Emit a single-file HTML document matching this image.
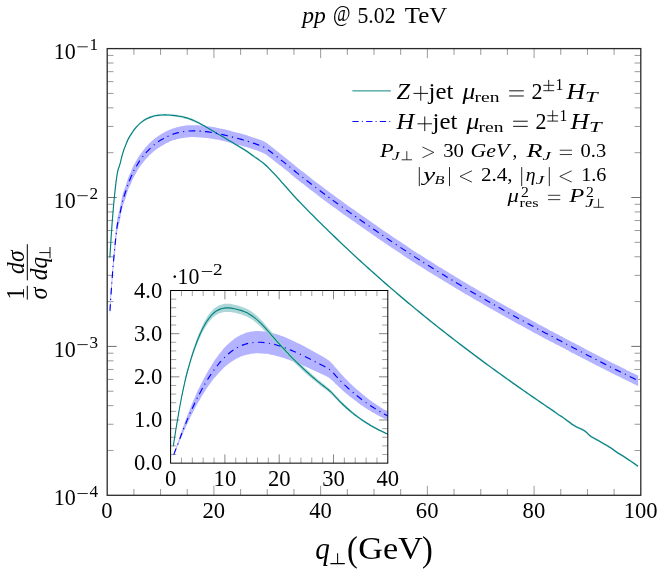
<!DOCTYPE html>
<html><head><meta charset="utf-8"><title>pp @ 5.02 TeV</title>
<style>
html,body{margin:0;padding:0;background:#fff;}
body{width:665px;height:576px;overflow:hidden;font-family:"Liberation Serif",serif;}
svg text{font-family:"Liberation Serif",serif;}
</style></head><body>
<svg width="665" height="576" viewBox="0 0 665 576" style="display:block;will-change:transform">
<rect width="665" height="576" fill="#fff"/>
<defs><clipPath id="cm"><rect x="107.20" y="48.60" width="533.60" height="446.70"/></clipPath>
<clipPath id="ci"><rect x="170.60" y="290.50" width="217.20" height="172.65"/></clipPath></defs>
<path d="M133.88 495.30v-6.30 M133.88 48.60v6.30 M160.56 495.30v-6.30 M160.56 48.60v6.30 M187.24 495.30v-6.30 M187.24 48.60v6.30 M213.92 495.30v-9.50 M213.92 48.60v9.50 M240.60 495.30v-6.30 M240.60 48.60v6.30 M267.28 495.30v-6.30 M267.28 48.60v6.30 M293.96 495.30v-6.30 M293.96 48.60v6.30 M320.64 495.30v-9.50 M320.64 48.60v9.50 M347.32 495.30v-6.30 M347.32 48.60v6.30 M374.00 495.30v-6.30 M374.00 48.60v6.30 M400.68 495.30v-6.30 M400.68 48.60v6.30 M427.36 495.30v-9.50 M427.36 48.60v9.50 M454.04 495.30v-6.30 M454.04 48.60v6.30 M480.72 495.30v-6.30 M480.72 48.60v6.30 M507.40 495.30v-6.30 M507.40 48.60v6.30 M534.08 495.30v-9.50 M534.08 48.60v9.50 M560.76 495.30v-6.30 M560.76 48.60v6.30 M587.44 495.30v-6.30 M587.44 48.60v6.30 M614.12 495.30v-6.30 M614.12 48.60v6.30" stroke="#808080" stroke-width="0.8" fill="none"/>
<path d="M107.20 152.68h6.30 M640.80 152.68h-6.30 M107.20 126.46h6.30 M640.80 126.46h-6.30 M107.20 107.85h6.30 M640.80 107.85h-6.30 M107.20 93.42h6.30 M640.80 93.42h-6.30 M107.20 81.63h6.30 M640.80 81.63h-6.30 M107.20 71.66h6.30 M640.80 71.66h-6.30 M107.20 63.03h6.30 M640.80 63.03h-6.30 M107.20 55.41h6.30 M640.80 55.41h-6.30 M107.20 301.58h6.30 M640.80 301.58h-6.30 M107.20 275.36h6.30 M640.80 275.36h-6.30 M107.20 256.75h6.30 M640.80 256.75h-6.30 M107.20 242.32h6.30 M640.80 242.32h-6.30 M107.20 230.53h6.30 M640.80 230.53h-6.30 M107.20 220.56h6.30 M640.80 220.56h-6.30 M107.20 211.93h6.30 M640.80 211.93h-6.30 M107.20 204.31h6.30 M640.80 204.31h-6.30 M107.20 450.48h6.30 M640.80 450.48h-6.30 M107.20 424.26h6.30 M640.80 424.26h-6.30 M107.20 405.65h6.30 M640.80 405.65h-6.30 M107.20 391.22h6.30 M640.80 391.22h-6.30 M107.20 379.43h6.30 M640.80 379.43h-6.30 M107.20 369.46h6.30 M640.80 369.46h-6.30 M107.20 360.83h6.30 M640.80 360.83h-6.30 M107.20 353.21h6.30 M640.80 353.21h-6.30" stroke="#808080" stroke-width="0.8" fill="none"/>
<path d="M107.20 197.50h9.50 M640.80 197.50h-9.50 M107.20 346.40h9.50 M640.80 346.40h-9.50" stroke="#606060" stroke-width="0.9" fill="none"/>
<g clip-path="url(#cm)">
<path d="M109.87 256.58 C109.87 256.58 112.24 214.62 115.20 187.99 C118.17 161.37 117.58 172.97 120.54 160.62 C123.50 148.27 122.91 151.16 125.88 143.49 C128.84 135.82 128.25 137.89 131.21 132.98 C134.17 128.07 133.59 129.19 136.55 125.80 C139.51 122.41 138.92 123.09 141.88 120.77 C144.85 118.44 144.26 118.92 147.22 117.41 C150.18 115.90 149.59 116.21 152.56 115.32 C155.52 114.42 154.93 114.62 157.89 114.19 C160.85 113.77 160.27 113.88 163.23 113.79 C166.19 113.70 165.60 113.72 168.56 113.87 C171.53 114.01 170.94 113.98 173.90 114.33 C176.86 114.67 176.27 114.57 179.24 115.09 C182.20 115.62 181.61 115.46 184.57 116.23 C187.53 116.99 186.95 116.79 189.91 117.86 C192.87 118.92 192.28 118.70 195.24 120.06 C198.21 121.41 197.62 121.16 200.58 122.75 C203.54 124.33 202.95 124.04 205.92 125.77 C208.88 127.49 208.29 127.23 211.25 128.97 C214.21 130.70 213.63 130.33 216.59 132.03 C219.55 133.73 218.96 133.37 221.92 135.09 C224.89 136.81 224.30 136.49 227.26 138.24 C230.22 140.00 229.63 139.65 232.60 141.43 C235.56 143.20 234.97 142.85 237.93 144.63 C240.89 146.42 240.31 145.99 243.27 147.86 C246.23 149.73 245.64 149.33 248.60 151.37 C251.57 153.41 250.98 153.09 253.94 155.21 C256.90 157.33 256.31 156.83 259.28 159.01 C262.24 161.18 261.65 160.51 264.61 163.04 C267.57 165.58 266.99 165.16 269.95 168.14 C272.91 171.12 272.32 170.59 275.28 173.78 C278.25 176.97 277.66 176.30 280.62 179.64 C283.58 182.99 282.99 182.46 285.96 185.84 C288.92 189.22 288.33 188.55 291.29 191.83 C294.25 195.12 293.67 194.51 296.63 197.67 C299.59 200.83 299.00 200.16 301.96 203.21 C304.93 206.26 304.34 205.66 307.30 208.67 C310.26 211.68 309.67 211.08 312.64 214.06 C315.60 217.04 315.01 216.45 317.97 219.40 C320.93 222.34 320.35 221.76 323.31 224.68 C326.27 227.59 325.68 227.02 328.64 229.90 C331.61 232.78 331.02 232.21 333.98 235.07 C336.94 237.92 336.35 237.36 339.32 240.18 C342.28 243.00 341.69 242.45 344.65 245.24 C347.61 248.03 347.03 247.48 349.99 250.24 C352.95 253.01 352.36 252.46 355.32 255.20 C358.29 257.93 357.70 257.39 360.66 260.10 C363.62 262.81 363.03 262.27 366.00 264.95 C368.96 267.63 368.37 267.10 371.33 269.75 C374.29 272.40 373.71 271.88 376.67 274.50 C379.63 277.13 379.04 276.61 382.00 279.21 C384.97 281.81 384.38 281.29 387.34 283.87 C390.30 286.44 389.71 285.93 392.68 288.48 C395.64 291.02 395.05 290.52 398.01 293.04 C400.97 295.56 400.39 295.07 403.35 297.56 C406.31 300.06 405.72 299.57 408.68 302.04 C411.65 304.51 411.06 304.03 414.02 306.47 C416.98 308.92 416.39 308.44 419.36 310.87 C422.32 313.29 421.73 312.81 424.69 315.22 C427.65 317.62 427.07 317.14 430.03 319.53 C432.99 321.91 432.40 321.44 435.36 323.79 C438.33 326.15 437.74 325.69 440.70 328.03 C443.66 330.36 443.07 329.90 446.04 332.22 C449.00 334.53 448.41 334.08 451.37 336.37 C454.33 338.67 453.75 338.22 456.71 340.49 C459.67 342.77 459.08 342.32 462.04 344.58 C465.01 346.83 464.42 346.39 467.38 348.63 C470.34 350.86 469.75 350.42 472.72 352.64 C475.68 354.86 475.09 354.42 478.05 356.62 C481.01 358.82 480.43 358.39 483.39 360.57 C486.35 362.75 485.76 362.32 488.72 364.49 C491.69 366.66 491.10 366.23 494.06 368.38 C497.02 370.53 496.43 370.10 499.40 372.24 C502.36 374.37 501.77 373.95 504.73 376.06 C507.69 378.18 507.11 377.76 510.07 379.87 C513.03 381.97 512.44 381.55 515.40 383.64 C518.37 385.73 517.78 385.31 520.74 387.39 C523.70 389.46 523.11 389.05 526.08 391.11 C529.04 393.17 528.45 392.76 531.41 394.80 C534.37 396.85 533.79 396.45 536.75 398.48 C539.71 400.51 539.12 400.11 542.08 402.13 C545.05 404.15 544.46 403.75 547.42 405.76 C550.38 407.76 549.79 407.29 552.76 409.36 C555.72 411.44 555.13 411.19 558.09 413.23 C561.05 415.26 560.47 414.66 563.43 416.71 C566.39 418.76 565.80 418.47 568.76 420.62 C571.73 422.77 571.14 422.65 574.10 424.45 C577.06 426.24 576.47 425.60 579.44 427.09 C582.40 428.58 581.81 427.71 584.77 429.81 C587.73 431.90 587.15 432.41 590.11 434.63 C593.07 436.84 592.48 436.04 595.44 437.79 C598.41 439.53 597.82 439.21 600.78 440.91 C603.74 442.62 603.15 442.19 606.12 443.93 C609.08 445.67 608.49 445.20 611.45 447.19 C614.41 449.17 613.83 449.12 616.79 451.10 C619.75 453.07 619.16 452.45 622.12 454.30 C625.09 456.15 624.50 455.78 627.46 457.75 C630.42 459.73 629.83 459.36 632.80 461.41 C635.76 463.47 638.13 465.15 638.13 465.15 L638.13 467.47 C638.13 467.47 635.76 465.79 632.80 463.74 C629.83 461.69 630.42 462.06 627.46 460.08 C624.50 458.11 625.09 458.48 622.12 456.63 C619.16 454.78 619.75 455.40 616.79 453.43 C613.83 451.45 614.41 451.50 611.45 449.51 C608.49 447.53 609.08 448.00 606.12 446.26 C603.15 444.52 603.74 444.95 600.78 443.24 C597.82 441.54 598.41 441.86 595.44 440.11 C592.48 438.37 593.07 439.17 590.11 436.96 C587.15 434.74 587.73 434.23 584.77 432.13 C581.81 430.04 582.40 430.90 579.44 429.42 C576.47 427.93 577.06 428.57 574.10 426.77 C571.14 424.98 571.73 425.10 568.76 422.95 C565.80 420.80 566.39 421.09 563.43 419.04 C560.47 416.99 561.05 417.59 558.09 415.55 C555.13 413.52 555.72 413.76 552.76 411.69 C549.79 409.62 550.38 410.09 547.42 408.08 C544.46 406.08 545.05 406.48 542.08 404.46 C539.12 402.44 539.71 402.84 536.75 400.81 C533.79 398.77 534.37 399.18 531.41 397.13 C528.45 395.09 529.04 395.49 526.08 393.44 C523.11 391.38 523.70 391.79 520.74 389.71 C517.78 387.64 518.37 388.05 515.40 385.97 C512.44 383.88 513.03 384.30 510.07 382.19 C507.11 380.09 507.69 380.51 504.73 378.39 C501.77 376.28 502.36 376.70 499.40 374.56 C496.43 372.43 497.02 372.85 494.06 370.71 C491.10 368.56 491.69 368.98 488.72 366.82 C485.76 364.65 486.35 365.08 483.39 362.90 C480.43 360.72 481.01 361.15 478.05 358.95 C475.09 356.75 475.68 357.19 472.72 354.97 C469.75 352.75 470.34 353.19 467.38 350.95 C464.42 348.72 465.01 349.16 462.04 346.90 C459.08 344.65 459.67 345.10 456.71 342.82 C453.75 340.54 454.33 341.00 451.37 338.70 C448.41 336.41 449.00 336.86 446.04 334.55 C443.07 332.23 443.66 332.69 440.70 330.35 C437.74 328.02 438.33 328.48 435.36 326.12 C432.40 323.76 432.99 324.23 430.03 321.85 C427.07 319.47 427.65 319.95 424.69 317.54 C421.73 315.14 422.32 315.62 419.36 313.19 C416.39 310.77 416.98 311.25 414.02 308.80 C411.06 306.35 411.65 306.84 408.68 304.37 C405.72 301.90 406.31 302.39 403.35 299.89 C400.39 297.40 400.97 297.89 398.01 295.37 C395.05 292.85 395.64 293.35 392.68 290.81 C389.71 288.26 390.30 288.77 387.34 286.20 C384.38 283.62 384.97 284.14 382.00 281.54 C379.04 278.94 379.63 279.46 376.67 276.83 C373.71 274.21 374.29 274.73 371.33 272.08 C368.37 269.43 368.96 269.96 366.00 267.28 C363.03 264.60 363.62 265.13 360.66 262.43 C357.70 259.72 358.29 260.26 355.32 257.53 C352.36 254.79 352.95 255.34 349.99 252.57 C347.03 249.81 347.61 250.36 344.65 247.57 C341.69 244.77 342.28 245.33 339.32 242.51 C336.35 239.69 336.94 240.25 333.98 237.40 C331.02 234.54 331.61 235.11 328.64 232.23 C325.68 229.34 326.27 229.92 323.31 227.00 C320.35 224.09 320.93 224.67 317.97 221.73 C315.01 218.78 315.60 219.37 312.64 216.39 C309.67 213.41 310.26 214.00 307.30 210.99 C304.34 207.98 304.93 208.59 301.96 205.54 C299.00 202.49 299.59 203.16 296.63 200.00 C293.67 196.84 294.25 197.44 291.29 194.16 C288.33 190.88 288.92 191.55 285.96 188.17 C282.99 184.78 283.58 185.31 280.62 181.97 C277.66 178.62 278.25 179.30 275.28 176.11 C272.32 172.92 272.91 173.45 269.95 170.47 C266.99 167.49 267.57 167.91 264.61 165.37 C261.65 162.84 262.24 163.51 259.28 161.33 C256.31 159.16 256.90 159.65 253.94 157.54 C250.98 155.42 251.57 155.74 248.60 153.70 C245.64 151.66 246.23 152.06 243.27 150.18 C240.31 148.31 240.89 148.74 237.93 146.96 C234.97 145.17 235.56 145.53 232.60 143.75 C229.63 141.98 230.22 142.33 227.26 140.57 C224.30 138.81 224.89 139.14 221.92 137.42 C218.96 135.69 219.55 136.06 216.59 134.36 C213.63 132.66 214.21 133.03 211.25 131.30 C208.29 129.56 208.88 129.82 205.92 128.10 C202.95 126.37 203.54 126.66 200.58 125.08 C197.62 123.49 198.21 123.74 195.24 122.38 C192.28 121.03 192.87 121.25 189.91 120.18 C186.95 119.12 187.53 119.32 184.57 118.55 C181.61 117.79 182.20 117.95 179.24 117.42 C176.27 116.90 176.86 116.99 173.90 116.65 C170.94 116.31 171.53 116.34 168.56 116.19 C165.60 116.05 166.19 116.03 163.23 116.12 C160.27 116.21 160.85 116.10 157.89 116.52 C154.93 116.94 155.52 116.75 152.56 117.64 C149.59 118.54 150.18 118.23 147.22 119.74 C144.26 121.25 144.85 120.77 141.88 123.09 C138.92 125.42 139.51 124.74 136.55 128.13 C133.59 131.52 134.17 130.40 131.21 135.31 C128.25 140.22 128.84 138.15 125.88 145.82 C122.91 153.49 123.50 150.60 120.54 162.95 C117.58 175.30 118.17 163.69 115.20 190.32 C112.24 216.95 109.87 258.91 109.87 258.91 Z" fill="#9fcfcf" fill-opacity="0.6"/>
<path d="M109.87 306.39 C109.87 306.39 112.24 265.91 115.20 237.80 C118.17 209.70 117.58 219.74 120.54 205.12 C123.50 190.49 122.91 194.59 125.88 185.09 C128.84 175.60 128.25 177.78 131.21 170.90 C134.17 164.02 133.59 165.50 136.55 160.30 C139.51 155.11 138.92 156.21 141.88 152.16 C144.85 148.11 144.26 148.95 147.22 145.71 C150.18 142.48 149.59 143.12 152.56 140.51 C155.52 137.89 154.93 138.39 157.89 136.30 C160.85 134.21 160.27 134.65 163.23 132.98 C166.19 131.30 165.60 131.58 168.56 130.25 C171.53 128.92 170.94 129.17 173.90 128.19 C176.86 127.20 176.27 127.39 179.24 126.71 C182.20 126.04 181.61 126.15 184.57 125.75 C187.53 125.35 186.95 125.42 189.91 125.27 C192.87 125.13 192.28 125.17 195.24 125.22 C198.21 125.28 197.62 125.26 200.58 125.47 C203.54 125.68 202.95 125.64 205.92 125.98 C208.88 126.33 208.29 126.25 211.25 126.72 C214.21 127.18 213.63 127.09 216.59 127.66 C219.55 128.22 218.96 128.11 221.92 128.77 C224.89 129.43 224.30 129.29 227.26 130.03 C230.22 130.77 229.63 130.65 232.60 131.43 C235.56 132.22 234.97 132.06 237.93 132.85 C240.89 133.65 240.31 133.44 243.27 134.28 C246.23 135.13 245.64 134.95 248.60 135.89 C251.57 136.83 250.98 136.66 253.94 137.67 C256.90 138.68 256.31 138.36 259.28 139.52 C262.24 140.68 261.65 140.16 264.61 141.85 C267.57 143.53 266.99 143.40 269.95 145.60 C272.91 147.80 272.32 147.45 275.28 149.76 C278.25 152.08 277.66 151.60 280.62 153.93 C283.58 156.26 282.99 155.78 285.96 158.17 C288.92 160.55 288.33 160.07 291.29 162.52 C294.25 164.96 293.67 164.60 296.63 166.98 C299.59 169.36 299.00 168.81 301.96 171.11 C304.93 173.40 304.34 172.94 307.30 175.25 C310.26 177.55 309.67 177.11 312.64 179.40 C315.60 181.68 315.01 181.23 317.97 183.48 C320.93 185.73 320.35 185.28 323.31 187.50 C326.27 189.72 325.68 189.29 328.64 191.49 C331.61 193.69 331.02 193.26 333.98 195.43 C336.94 197.60 336.35 197.17 339.32 199.32 C342.28 201.47 341.69 201.04 344.65 203.17 C347.61 205.30 347.03 204.88 349.99 206.99 C352.95 209.11 352.36 208.69 355.32 210.79 C358.29 212.90 357.70 212.48 360.66 214.57 C363.62 216.66 363.03 216.25 366.00 218.32 C368.96 220.39 368.37 219.98 371.33 222.04 C374.29 224.10 373.71 223.70 376.67 225.75 C379.63 227.81 379.04 227.40 382.00 229.44 C384.97 231.47 384.38 231.07 387.34 233.09 C390.30 235.11 389.71 234.71 392.68 236.71 C395.64 238.71 395.05 238.32 398.01 240.30 C400.97 242.29 400.39 241.90 403.35 243.87 C406.31 245.84 405.72 245.45 408.68 247.40 C411.65 249.36 411.06 248.98 414.02 250.91 C416.98 252.84 416.39 252.46 419.36 254.36 C422.32 256.26 421.73 255.87 424.69 257.75 C427.65 259.62 427.07 259.25 430.03 261.11 C432.99 262.97 432.40 262.60 435.36 264.44 C438.33 266.29 437.74 265.92 440.70 267.75 C443.66 269.58 443.07 269.22 446.04 271.03 C449.00 272.85 448.41 272.49 451.37 274.29 C454.33 276.09 453.75 275.73 456.71 277.52 C459.67 279.30 459.08 278.95 462.04 280.72 C465.01 282.49 464.42 282.14 467.38 283.90 C470.34 285.66 469.75 285.31 472.72 287.06 C475.68 288.80 475.09 288.46 478.05 290.19 C481.01 291.92 480.43 291.58 483.39 293.30 C486.35 295.01 485.76 294.67 488.72 296.38 C491.69 298.08 491.10 297.75 494.06 299.44 C497.02 301.13 496.43 300.80 499.40 302.48 C502.36 304.16 501.77 303.83 504.73 305.50 C507.69 307.17 507.11 306.84 510.07 308.49 C513.03 310.15 512.44 309.82 515.40 311.47 C518.37 313.11 517.78 312.79 520.74 314.42 C523.70 316.05 523.11 315.73 526.08 317.35 C529.04 318.97 528.45 318.65 531.41 320.27 C534.37 321.88 533.79 321.56 536.75 323.16 C539.71 324.76 539.12 324.44 542.08 326.03 C545.05 327.62 544.46 327.31 547.42 328.89 C550.38 330.47 549.79 330.16 552.76 331.73 C555.72 333.30 555.13 332.98 558.09 334.54 C561.05 336.11 560.47 335.80 563.43 337.38 C566.39 338.95 565.80 338.65 568.76 340.22 C571.73 341.80 571.14 341.48 574.10 343.05 C577.06 344.61 576.47 344.30 579.44 345.86 C582.40 347.42 581.81 347.11 584.77 348.66 C587.73 350.20 587.15 349.90 590.11 351.44 C593.07 352.97 592.48 352.67 595.44 354.20 C598.41 355.73 597.82 355.43 600.78 356.95 C603.74 358.47 603.15 358.17 606.12 359.69 C609.08 361.20 608.49 360.91 611.45 362.41 C614.41 363.91 613.83 363.61 616.79 365.10 C619.75 366.58 619.16 366.28 622.12 367.75 C625.09 369.22 624.50 368.93 627.46 370.39 C630.42 371.86 629.83 371.57 632.80 373.02 C635.76 374.48 638.13 375.64 638.13 375.64 L638.13 386.02 C638.13 386.02 635.76 384.87 632.80 383.43 C629.83 381.99 630.42 382.28 627.46 380.83 C624.50 379.38 625.09 379.67 622.12 378.21 C619.16 376.76 619.75 377.05 616.79 375.58 C613.83 374.11 614.41 374.41 611.45 372.92 C608.49 371.43 609.08 371.72 606.12 370.22 C603.15 368.72 603.74 369.02 600.78 367.51 C597.82 366.01 598.41 366.31 595.44 364.79 C592.48 363.27 593.07 363.58 590.11 362.05 C587.15 360.53 587.73 360.83 584.77 359.30 C581.81 357.77 582.40 358.07 579.44 356.53 C576.47 354.99 577.06 355.29 574.10 353.74 C571.14 352.19 571.73 352.50 568.76 350.94 C565.80 349.38 566.39 349.68 563.43 348.12 C560.47 346.56 561.05 346.87 558.09 345.32 C555.13 343.76 555.72 344.08 552.76 342.52 C549.79 340.97 550.38 341.28 547.42 339.71 C544.46 338.15 545.05 338.46 542.08 336.88 C539.12 335.31 539.71 335.62 536.75 334.04 C533.79 332.45 534.37 332.77 531.41 331.17 C528.45 329.57 529.04 329.89 526.08 328.28 C523.11 326.67 523.70 326.99 520.74 325.37 C517.78 323.76 518.37 324.08 515.40 322.45 C512.44 320.82 513.03 321.14 510.07 319.50 C507.11 317.86 507.69 318.18 504.73 316.53 C501.77 314.88 502.36 315.20 499.40 313.54 C496.43 311.87 497.02 312.20 494.06 310.53 C491.10 308.85 491.69 309.18 488.72 307.49 C485.76 305.80 486.35 306.14 483.39 304.43 C480.43 302.73 481.01 303.07 478.05 301.35 C475.09 299.63 475.68 299.98 472.72 298.25 C469.75 296.52 470.34 296.86 467.38 295.12 C464.42 293.37 465.01 293.72 462.04 291.96 C459.08 290.21 459.67 290.56 456.71 288.79 C453.75 287.01 454.33 287.37 451.37 285.58 C448.41 283.80 449.00 284.15 446.04 282.35 C443.07 280.55 443.66 280.91 440.70 279.10 C437.74 277.28 438.33 277.64 435.36 275.82 C432.40 273.99 432.99 274.35 430.03 272.51 C427.07 270.66 427.65 271.03 424.69 269.17 C421.73 267.31 422.32 267.69 419.36 265.81 C416.39 263.93 416.98 264.30 414.02 262.39 C411.06 260.47 411.65 260.85 408.68 258.91 C405.72 256.97 406.31 257.35 403.35 255.40 C400.39 253.44 400.97 253.83 398.01 251.86 C395.05 249.89 395.64 250.28 392.68 248.29 C389.71 246.30 390.30 246.70 387.34 244.69 C384.38 242.69 384.97 243.09 382.00 241.07 C379.04 239.05 379.63 239.45 376.67 237.41 C373.71 235.37 374.29 235.77 371.33 233.72 C368.37 231.68 368.96 232.09 366.00 230.03 C363.03 227.98 363.62 228.39 360.66 226.31 C357.70 224.23 358.29 224.64 355.32 222.55 C352.36 220.46 352.95 220.88 349.99 218.78 C347.03 216.68 347.61 217.10 344.65 214.99 C341.69 212.87 342.28 213.29 339.32 211.16 C336.35 209.03 336.94 209.45 333.98 207.30 C331.02 205.14 331.61 205.57 328.64 203.38 C325.68 201.20 326.27 201.63 323.31 199.42 C320.35 197.21 320.93 197.66 317.97 195.41 C315.01 193.17 315.60 193.62 312.64 191.33 C309.67 189.05 310.26 189.48 307.30 187.18 C304.34 184.88 304.93 185.33 301.96 183.04 C299.00 180.75 299.59 181.30 296.63 178.91 C293.67 176.53 294.25 176.90 291.29 174.45 C288.33 172.00 288.92 172.48 285.96 170.10 C282.99 167.71 283.58 168.19 280.62 165.86 C277.66 163.53 278.25 164.01 275.28 161.70 C272.32 159.39 272.91 159.73 269.95 157.53 C266.99 155.34 267.57 155.47 264.61 153.78 C261.65 152.09 262.24 152.62 259.28 151.46 C256.31 150.30 256.90 150.61 253.94 149.60 C250.98 148.59 251.57 148.76 248.60 147.82 C245.64 146.89 246.23 147.06 243.27 146.22 C240.31 145.37 240.89 145.58 237.93 144.79 C234.97 144.00 235.56 144.15 232.60 143.37 C229.63 142.58 230.22 142.70 227.26 141.96 C224.30 141.22 224.89 141.36 221.92 140.70 C218.96 140.04 219.55 140.16 216.59 139.59 C213.63 139.02 214.21 139.12 211.25 138.65 C208.29 138.19 208.88 138.26 205.92 137.91 C202.95 137.57 203.54 137.61 200.58 137.40 C197.62 137.19 198.21 137.21 195.24 137.15 C192.28 137.10 192.87 137.06 189.91 137.21 C186.95 137.35 187.53 137.28 184.57 137.68 C181.61 138.08 182.20 137.97 179.24 138.65 C176.27 139.32 176.86 139.14 173.90 140.12 C170.94 141.10 171.53 140.85 168.56 142.18 C165.60 143.51 166.19 143.23 163.23 144.91 C160.27 146.59 160.85 146.14 157.89 148.23 C154.93 150.32 155.52 149.83 152.56 152.44 C149.59 155.05 150.18 154.41 147.22 157.64 C144.26 160.88 144.85 160.04 141.88 164.09 C138.92 168.14 139.51 167.04 136.55 172.24 C133.59 177.44 134.17 175.95 131.21 182.83 C128.25 189.71 128.84 187.53 125.88 197.03 C122.91 206.52 123.50 202.42 120.54 217.05 C117.58 231.68 118.17 221.63 115.20 249.73 C112.24 277.84 109.87 318.33 109.87 318.33 Z" fill="#b3b3ff"/>
<path d="M109.87 257.73 C109.87 257.73 112.24 215.78 115.20 189.15 C118.17 162.52 117.58 174.12 120.54 161.77 C123.50 149.43 122.91 152.32 125.88 144.65 C128.84 136.98 128.25 139.05 131.21 134.14 C134.17 129.22 133.59 130.34 136.55 126.95 C139.51 123.56 138.92 124.25 141.88 121.92 C144.85 119.59 144.26 120.08 147.22 118.57 C150.18 117.05 149.59 117.36 152.56 116.47 C155.52 115.58 154.93 115.77 157.89 115.35 C160.85 114.92 160.27 115.04 163.23 114.95 C166.19 114.86 165.60 114.87 168.56 115.02 C171.53 115.17 170.94 115.14 173.90 115.48 C176.86 115.82 176.27 115.72 179.24 116.25 C182.20 116.78 181.61 116.61 184.57 117.38 C187.53 118.15 186.95 117.95 189.91 119.01 C192.87 120.07 192.28 119.85 195.24 121.21 C198.21 122.57 197.62 122.32 200.58 123.90 C203.54 125.49 202.95 125.20 205.92 126.92 C208.88 128.65 208.29 128.38 211.25 130.12 C214.21 131.86 213.63 131.48 216.59 133.18 C219.55 134.88 218.96 134.52 221.92 136.24 C224.89 137.97 224.30 137.64 227.26 139.40 C230.22 141.16 229.63 140.81 232.60 142.58 C235.56 144.35 234.97 144.00 237.93 145.78 C240.89 147.57 240.31 147.14 243.27 149.01 C246.23 150.88 245.64 150.49 248.60 152.53 C251.57 154.57 250.98 154.24 253.94 156.36 C256.90 158.48 256.31 157.99 259.28 160.16 C262.24 162.33 261.65 161.66 264.61 164.20 C267.57 166.73 266.99 166.31 269.95 169.30 C272.91 172.28 272.32 171.75 275.28 174.94 C278.25 178.13 277.66 177.45 280.62 180.79 C283.58 184.14 282.99 183.61 285.96 186.99 C288.92 190.38 288.33 189.70 291.29 192.99 C294.25 196.27 293.67 195.67 296.63 198.83 C299.59 201.98 299.00 201.31 301.96 204.37 C304.93 207.42 304.34 206.81 307.30 209.82 C310.26 212.83 309.67 212.24 312.64 215.21 C315.60 218.19 315.01 217.60 317.97 220.55 C320.93 223.50 320.35 222.92 323.31 225.83 C326.27 228.74 325.68 228.17 328.64 231.05 C331.61 233.94 331.02 233.37 333.98 236.22 C336.94 239.07 336.35 238.51 339.32 241.33 C342.28 244.16 341.69 243.60 344.65 246.39 C347.61 249.18 347.03 248.63 349.99 251.40 C352.95 254.16 352.36 253.62 355.32 256.35 C358.29 259.09 357.70 258.55 360.66 261.25 C363.62 263.96 363.03 263.43 366.00 266.10 C368.96 268.78 368.37 268.25 371.33 270.91 C374.29 273.56 373.71 273.03 376.67 275.66 C379.63 278.28 379.04 277.77 382.00 280.36 C384.97 282.96 384.38 282.45 387.34 285.02 C390.30 287.59 389.71 287.09 392.68 289.63 C395.64 292.18 395.05 291.68 398.01 294.20 C400.97 296.72 400.39 296.22 403.35 298.72 C406.31 301.21 405.72 300.72 408.68 303.19 C411.65 305.67 411.06 305.18 414.02 307.63 C416.98 310.08 416.39 309.59 419.36 312.02 C422.32 314.45 421.73 313.97 424.69 316.37 C427.65 318.77 427.07 318.30 430.03 320.68 C432.99 323.06 432.40 322.59 435.36 324.95 C438.33 327.31 437.74 326.84 440.70 329.18 C443.66 331.52 443.07 331.06 446.04 333.37 C449.00 335.69 448.41 335.23 451.37 337.53 C454.33 339.82 453.75 339.37 456.71 341.65 C459.67 343.92 459.08 343.47 462.04 345.73 C465.01 347.99 464.42 347.54 467.38 349.78 C470.34 352.02 469.75 351.57 472.72 353.79 C475.68 356.01 475.09 355.57 478.05 357.78 C481.01 359.98 480.43 359.54 483.39 361.73 C486.35 363.91 485.76 363.48 488.72 365.64 C491.69 367.81 491.10 367.38 494.06 369.53 C497.02 371.68 496.43 371.26 499.40 373.39 C502.36 375.52 501.77 375.10 504.73 377.22 C507.69 379.34 507.11 378.92 510.07 381.02 C513.03 383.12 512.44 382.71 515.40 384.79 C518.37 386.88 517.78 386.47 520.74 388.54 C523.70 390.61 523.11 390.20 526.08 392.26 C529.04 394.32 528.45 393.91 531.41 395.96 C534.37 398.00 533.79 397.60 536.75 399.63 C539.71 401.66 539.12 401.26 542.08 403.28 C545.05 405.30 544.46 404.90 547.42 406.91 C550.38 408.92 549.79 408.44 552.76 410.52 C555.72 412.59 555.13 412.34 558.09 414.38 C561.05 416.42 560.47 415.81 563.43 417.86 C566.39 419.91 565.80 419.63 568.76 421.77 C571.73 423.92 571.14 423.81 574.10 425.60 C577.06 427.39 576.47 426.76 579.44 428.24 C582.40 429.73 581.81 428.87 584.77 430.96 C587.73 433.05 587.15 433.57 590.11 435.78 C593.07 438.00 592.48 437.20 595.44 438.94 C598.41 440.68 597.82 440.36 600.78 442.07 C603.74 443.77 603.15 443.35 606.12 445.09 C609.08 446.83 608.49 446.35 611.45 448.34 C614.41 450.33 613.83 450.28 616.79 452.25 C619.75 454.23 619.16 453.61 622.12 455.45 C625.09 457.30 624.50 456.93 627.46 458.91 C630.42 460.88 629.83 460.52 632.80 462.57 C635.76 464.62 638.13 466.30 638.13 466.30" fill="none" stroke="#008080" stroke-width="1.15" stroke-linejoin="round"/>
<path d="M109.87 312.09 C109.87 312.09 112.24 271.60 115.20 243.49 C118.17 215.39 117.58 225.43 120.54 210.81 C123.50 196.18 122.91 200.28 125.88 190.79 C128.84 181.29 128.25 183.47 131.21 176.59 C134.17 169.71 133.59 171.19 136.55 166.00 C139.51 160.80 138.92 161.90 141.88 157.85 C144.85 153.80 144.26 154.64 147.22 151.40 C150.18 148.17 149.59 148.81 152.56 146.20 C155.52 143.59 154.93 144.08 157.89 141.99 C160.85 139.90 160.27 140.35 163.23 138.67 C166.19 136.99 165.60 137.27 168.56 135.94 C171.53 134.61 170.94 134.86 173.90 133.88 C176.86 132.90 176.27 133.08 179.24 132.41 C182.20 131.73 181.61 131.84 184.57 131.44 C187.53 131.04 186.95 131.11 189.91 130.97 C192.87 130.82 192.28 130.86 195.24 130.91 C198.21 130.97 197.62 130.95 200.58 131.16 C203.54 131.37 202.95 131.33 205.92 131.67 C208.88 132.02 208.29 131.95 211.25 132.41 C214.21 132.88 213.63 132.78 216.59 133.35 C219.55 133.92 218.96 133.80 221.92 134.46 C224.89 135.12 224.30 134.98 227.26 135.72 C230.22 136.46 229.63 136.34 232.60 137.12 C235.56 137.91 234.97 137.75 237.93 138.55 C240.89 139.34 240.31 139.13 243.27 139.98 C246.23 140.82 245.64 140.64 248.60 141.58 C251.57 142.52 250.98 142.35 253.94 143.36 C256.90 144.37 256.31 144.06 259.28 145.21 C262.24 146.37 261.65 145.85 264.61 147.54 C267.57 149.23 266.99 149.10 269.95 151.29 C272.91 153.49 272.32 153.15 275.28 155.46 C278.25 157.77 277.66 157.29 280.62 159.62 C283.58 161.95 282.99 161.47 285.96 163.86 C288.92 166.24 288.33 165.76 291.29 168.21 C294.25 170.65 293.67 170.29 296.63 172.67 C299.59 175.06 299.00 174.50 301.96 176.80 C304.93 179.09 304.34 178.64 307.30 180.94 C310.26 183.24 309.67 182.80 312.64 185.09 C315.60 187.38 315.01 186.93 317.97 189.17 C320.93 191.42 320.35 190.97 323.31 193.19 C326.27 195.40 325.68 194.97 328.64 197.17 C331.61 199.36 331.02 198.93 333.98 201.09 C336.94 203.26 336.35 202.83 339.32 204.97 C342.28 207.11 341.69 206.69 344.65 208.81 C347.61 210.93 347.03 210.51 349.99 212.62 C352.95 214.72 352.36 214.31 355.32 216.41 C358.29 218.50 357.70 218.09 360.66 220.18 C363.62 222.26 363.03 221.85 366.00 223.91 C368.96 225.98 368.37 225.56 371.33 227.62 C374.29 229.67 373.71 229.27 376.67 231.32 C379.63 233.37 379.04 232.96 382.00 234.99 C384.97 237.02 384.38 236.62 387.34 238.63 C390.30 240.64 389.71 240.25 392.68 242.24 C395.64 244.24 395.05 243.84 398.01 245.82 C400.97 247.80 400.39 247.41 403.35 249.38 C406.31 251.34 405.72 250.95 408.68 252.90 C411.65 254.85 411.06 254.47 414.02 256.39 C416.98 258.32 416.39 257.94 419.36 259.83 C422.32 261.72 421.73 261.34 424.69 263.21 C427.65 265.07 427.07 264.71 430.03 266.56 C432.99 268.41 432.40 268.04 435.36 269.88 C438.33 271.72 437.74 271.35 440.70 273.18 C443.66 275.00 443.07 274.64 446.04 276.45 C449.00 278.25 448.41 277.90 451.37 279.69 C454.33 281.48 453.75 281.13 456.71 282.91 C459.67 284.69 459.08 284.33 462.04 286.10 C465.01 287.86 464.42 287.52 467.38 289.27 C470.34 291.02 469.75 290.67 472.72 292.41 C475.68 294.15 475.09 293.80 478.05 295.53 C481.01 297.25 480.43 296.91 483.39 298.62 C486.35 300.34 485.76 300.00 488.72 301.70 C491.69 303.40 491.10 303.06 494.06 304.75 C497.02 306.43 496.43 306.10 499.40 307.77 C502.36 309.45 501.77 309.12 504.73 310.78 C507.69 312.44 507.11 312.11 510.07 313.76 C513.03 315.41 512.44 315.09 515.40 316.72 C518.37 318.36 517.78 318.04 520.74 319.67 C523.70 321.29 523.11 320.97 526.08 322.59 C529.04 324.20 528.45 323.88 531.41 325.49 C534.37 327.09 533.79 326.77 536.75 328.37 C539.71 329.96 539.12 329.65 542.08 331.23 C545.05 332.81 544.46 332.50 547.42 334.07 C550.38 335.65 549.79 335.34 552.76 336.90 C555.72 338.46 555.13 338.15 558.09 339.71 C561.05 341.27 560.47 340.96 563.43 342.53 C566.39 344.10 565.80 343.79 568.76 345.36 C571.73 346.93 571.14 346.62 574.10 348.18 C577.06 349.73 576.47 349.43 579.44 350.97 C582.40 352.52 581.81 352.22 584.77 353.76 C587.73 355.30 587.15 354.99 590.11 356.53 C593.07 358.06 592.48 357.76 595.44 359.28 C598.41 360.80 597.82 360.50 600.78 362.02 C603.74 363.53 603.15 363.23 606.12 364.74 C609.08 366.25 608.49 365.96 611.45 367.45 C614.41 368.95 613.83 368.65 616.79 370.13 C619.75 371.60 619.16 371.31 622.12 372.77 C625.09 374.23 624.50 373.94 627.46 375.40 C630.42 376.86 629.83 376.57 632.80 378.02 C635.76 379.47 638.13 380.63 638.13 380.63" fill="none" stroke="#0000ff" stroke-width="1.15" stroke-dasharray="6.65 4.35 1.1 4.36" stroke-dashoffset="-1.3" stroke-linejoin="round"/>
</g>
<rect x="107.20" y="48.60" width="533.60" height="446.70" fill="none" stroke="#2a2a2a" stroke-width="1.3"/>
<rect x="170.60" y="290.50" width="217.20" height="172.65" fill="#fff"/>
<path d="M181.46 463.15v-5.60 M181.46 290.50v5.60 M192.32 463.15v-5.60 M192.32 290.50v5.60 M203.18 463.15v-5.60 M203.18 290.50v5.60 M214.04 463.15v-5.60 M214.04 290.50v5.60 M235.76 463.15v-5.60 M235.76 290.50v5.60 M246.62 463.15v-5.60 M246.62 290.50v5.60 M257.48 463.15v-5.60 M257.48 290.50v5.60 M268.34 463.15v-5.60 M268.34 290.50v5.60 M290.06 463.15v-5.60 M290.06 290.50v5.60 M300.92 463.15v-5.60 M300.92 290.50v5.60 M311.78 463.15v-5.60 M311.78 290.50v5.60 M322.64 463.15v-5.60 M322.64 290.50v5.60 M344.36 463.15v-5.60 M344.36 290.50v5.60 M355.22 463.15v-5.60 M355.22 290.50v5.60 M366.08 463.15v-5.60 M366.08 290.50v5.60 M376.94 463.15v-5.60 M376.94 290.50v5.60 M170.60 454.52h5.60 M387.80 454.52h-5.60 M170.60 445.88h5.60 M387.80 445.88h-5.60 M170.60 437.25h5.60 M387.80 437.25h-5.60 M170.60 428.62h5.60 M387.80 428.62h-5.60 M170.60 411.35h5.60 M387.80 411.35h-5.60 M170.60 402.72h5.60 M387.80 402.72h-5.60 M170.60 394.09h5.60 M387.80 394.09h-5.60 M170.60 385.46h5.60 M387.80 385.46h-5.60 M170.60 368.19h5.60 M387.80 368.19h-5.60 M170.60 359.56h5.60 M387.80 359.56h-5.60 M170.60 350.93h5.60 M387.80 350.93h-5.60 M170.60 342.29h5.60 M387.80 342.29h-5.60 M170.60 325.03h5.60 M387.80 325.03h-5.60 M170.60 316.40h5.60 M387.80 316.40h-5.60 M170.60 307.76h5.60 M387.80 307.76h-5.60 M170.60 299.13h5.60 M387.80 299.13h-5.60" stroke="#8c8c8c" stroke-width="0.8" fill="none"/>
<path d="M224.90 463.15v-8.80 M224.90 290.50v8.80 M279.20 463.15v-8.80 M279.20 290.50v8.80 M333.50 463.15v-8.80 M333.50 290.50v8.80 M170.60 419.99h8.80 M387.80 419.99h-8.80 M170.60 376.82h8.80 M387.80 376.82h-8.80 M170.60 333.66h8.80 M387.80 333.66h-8.80" stroke="#6a6a6a" stroke-width="0.8" fill="none"/>
<g clip-path="url(#ci)">
<path d="M173.31 455.14 C173.31 455.14 175.73 448.26 178.75 439.64 C181.76 431.03 181.16 432.35 184.17 424.11 C187.19 415.86 186.59 417.45 189.60 409.94 C192.62 402.43 192.02 403.86 195.03 397.03 C198.05 390.21 197.45 391.49 200.47 385.35 C203.48 379.22 202.88 380.38 205.89 374.91 C208.91 369.45 208.31 370.49 211.32 365.66 C214.34 360.83 213.74 361.73 216.75 357.52 C219.77 353.31 219.17 354.07 222.19 350.49 C225.20 346.91 224.60 347.56 227.62 344.62 C230.63 341.68 230.03 342.22 233.05 339.90 C236.06 337.59 235.46 338.01 238.48 336.30 C241.49 334.58 240.89 334.90 243.91 333.73 C246.92 332.56 246.32 332.77 249.34 332.09 C252.35 331.41 251.75 331.53 254.76 331.27 C257.78 331.02 257.18 331.05 260.19 331.17 C263.21 331.28 262.61 331.25 265.62 331.67 C268.64 332.10 268.04 332.01 271.06 332.71 C274.07 333.40 273.47 333.26 276.49 334.19 C279.50 335.11 278.90 334.93 281.92 336.04 C284.93 337.16 284.33 336.93 287.35 338.21 C290.36 339.48 289.76 339.23 292.77 340.63 C295.79 342.03 295.19 341.75 298.21 343.25 C301.22 344.76 300.62 344.46 303.63 346.04 C306.65 347.62 306.05 347.31 309.06 348.96 C312.08 350.60 311.48 350.28 314.50 351.96 C317.51 353.65 316.91 353.32 319.93 355.03 C322.94 356.75 322.34 356.17 325.36 358.14 C328.37 360.11 327.77 359.31 330.79 362.14 C333.80 364.96 333.20 364.87 336.22 368.32 C339.23 371.77 338.63 371.25 341.64 374.56 C344.66 377.86 344.06 377.19 347.08 380.23 C350.09 383.26 349.49 382.67 352.50 385.49 C355.52 388.30 354.92 387.76 357.94 390.37 C360.95 392.99 360.35 392.48 363.37 394.91 C366.38 397.34 365.78 396.87 368.80 399.13 C371.81 401.39 371.21 400.95 374.23 403.05 C377.24 405.15 376.64 404.75 379.66 406.70 C382.67 408.66 382.82 408.71 385.09 410.10 C387.35 411.49 387.80 411.71 387.80 411.71 L387.80 420.38 C387.80 420.38 387.35 420.20 385.09 419.04 C382.82 417.89 382.67 417.84 379.66 416.21 C376.64 414.59 377.24 414.93 374.23 413.18 C371.21 411.43 371.81 411.80 368.80 409.92 C365.78 408.04 366.38 408.43 363.37 406.41 C360.35 404.39 360.95 404.81 357.94 402.64 C354.92 400.46 355.52 400.92 352.50 398.57 C349.49 396.23 350.09 396.72 347.08 394.20 C344.06 391.68 344.66 392.23 341.64 389.48 C338.63 386.74 339.23 387.17 336.22 384.30 C333.20 381.43 333.80 381.51 330.79 379.16 C327.77 376.81 328.37 377.47 325.36 375.83 C322.34 374.20 322.94 374.68 319.93 373.25 C316.91 371.82 317.51 372.10 314.50 370.70 C311.48 369.29 312.08 369.56 309.06 368.20 C306.05 366.83 306.65 367.09 303.63 365.77 C300.62 364.46 301.22 364.70 298.21 363.46 C295.19 362.21 295.79 362.44 292.77 361.27 C289.76 360.11 290.36 360.32 287.35 359.26 C284.33 358.20 284.93 358.39 281.92 357.46 C278.90 356.53 279.50 356.69 276.49 355.92 C273.47 355.15 274.07 355.27 271.06 354.69 C268.04 354.11 268.64 354.18 265.62 353.83 C262.61 353.47 263.21 353.50 260.19 353.40 C257.18 353.31 257.78 353.28 254.76 353.49 C251.75 353.71 252.35 353.61 249.34 354.17 C246.32 354.74 246.92 354.56 243.91 355.54 C240.89 356.51 241.49 356.25 238.48 357.67 C235.46 359.10 236.06 358.75 233.05 360.67 C230.03 362.59 230.63 362.15 227.62 364.59 C224.60 367.04 225.20 366.50 222.19 369.48 C219.17 372.45 219.77 371.82 216.75 375.32 C213.74 378.82 214.34 378.07 211.32 382.09 C208.31 386.10 208.91 385.24 205.89 389.78 C202.88 394.33 203.48 393.36 200.47 398.46 C197.45 403.57 198.05 402.50 195.03 408.17 C192.02 413.85 192.62 412.66 189.60 418.91 C186.59 425.15 187.19 423.83 184.17 430.68 C181.16 437.54 181.76 436.45 178.75 443.61 C175.73 450.77 173.31 456.49 173.31 456.49 Z" fill="#b3b3ff"/>
<path d="M173.31 445.70 C173.31 445.70 175.73 428.75 178.75 411.34 C181.76 393.93 181.16 396.85 184.17 382.96 C187.19 369.08 186.59 372.13 189.60 361.29 C192.62 350.45 192.02 352.60 195.03 343.91 C198.05 335.21 197.45 336.80 200.47 329.95 C203.48 323.11 202.88 324.32 205.89 319.23 C208.91 314.14 208.31 315.06 211.32 311.62 C214.34 308.19 213.74 308.83 216.75 306.84 C219.77 304.86 219.17 305.30 222.19 304.48 C225.20 303.65 224.60 303.88 227.62 303.86 C230.63 303.84 230.03 303.89 233.05 304.41 C236.06 304.92 235.46 304.84 238.48 305.71 C241.49 306.59 240.89 306.31 243.91 307.58 C246.92 308.84 246.32 308.47 249.34 310.28 C252.35 312.08 251.75 311.64 254.76 314.08 C257.78 316.52 257.18 316.05 260.19 319.07 C263.21 322.08 262.61 321.56 265.62 324.94 C268.64 328.33 268.04 327.73 271.06 331.25 C274.07 334.77 273.47 334.13 276.49 337.61 C279.50 341.10 278.90 340.43 281.92 343.82 C284.93 347.21 284.33 346.55 287.35 349.82 C290.36 353.09 289.76 352.46 292.77 355.61 C295.79 358.75 295.19 358.14 298.21 361.16 C301.22 364.18 300.62 363.59 303.63 366.48 C306.65 369.37 306.05 368.81 309.06 371.56 C312.08 374.32 311.48 373.78 314.50 376.41 C317.51 379.03 316.91 378.53 319.93 381.02 C322.94 383.52 322.34 382.90 325.36 385.41 C328.37 387.92 327.77 387.17 330.79 390.06 C333.80 392.94 333.20 392.60 336.22 395.80 C339.23 398.99 338.63 398.51 341.64 401.57 C344.66 404.63 344.06 404.05 347.08 406.82 C350.09 409.60 349.49 409.06 352.50 411.57 C355.52 414.09 354.92 413.60 357.94 415.88 C360.95 418.16 360.35 417.71 363.37 419.78 C366.38 421.85 365.78 421.45 368.80 423.33 C371.81 425.20 371.21 424.84 374.23 426.55 C377.24 428.25 376.64 427.92 379.66 429.48 C382.67 431.03 382.82 431.06 385.09 432.14 C387.35 433.23 387.80 433.38 387.80 433.38 L387.80 434.89 C387.80 434.89 387.35 434.74 385.09 433.72 C382.82 432.69 382.67 432.66 379.66 431.18 C376.64 429.71 377.24 430.02 374.23 428.40 C371.21 426.78 371.81 427.13 368.80 425.34 C365.78 423.56 366.38 423.94 363.37 421.98 C360.35 420.02 360.95 420.44 357.94 418.27 C354.92 416.11 355.52 416.57 352.50 414.19 C349.49 411.80 350.09 412.31 347.08 409.68 C344.06 407.04 344.66 407.60 341.64 404.69 C338.63 401.79 339.23 402.25 336.22 399.21 C333.20 396.18 333.80 396.50 330.79 393.76 C327.77 391.03 328.37 391.73 325.36 389.35 C322.34 386.97 322.94 387.56 319.93 385.19 C316.91 382.81 317.51 383.30 314.50 380.81 C311.48 378.31 312.08 378.82 309.06 376.20 C306.05 373.59 306.65 374.12 303.63 371.38 C300.62 368.64 301.22 369.20 298.21 366.33 C295.19 363.47 295.79 364.04 292.77 361.06 C289.76 358.07 290.36 358.67 287.35 355.57 C284.33 352.46 284.93 353.08 281.92 349.87 C278.90 346.65 279.50 347.29 276.49 343.98 C273.47 340.66 274.07 341.27 271.06 337.93 C268.04 334.60 268.64 335.16 265.62 331.95 C262.61 328.74 263.21 329.23 260.19 326.37 C257.18 323.51 257.78 323.95 254.76 321.64 C251.75 319.32 252.35 319.74 249.34 318.02 C246.32 316.31 246.92 316.66 243.91 315.46 C240.89 314.26 241.49 314.53 238.48 313.69 C235.46 312.86 236.06 312.94 233.05 312.45 C230.03 311.96 230.63 311.91 227.62 311.93 C224.60 311.95 225.20 311.73 222.19 312.52 C219.17 313.30 219.77 312.88 216.75 314.77 C213.74 316.65 214.34 316.04 211.32 319.30 C208.31 322.57 208.91 321.70 205.89 326.52 C202.88 331.35 203.48 330.20 200.47 336.71 C197.45 343.21 198.05 341.70 195.03 349.95 C192.02 358.21 192.62 356.16 189.60 366.45 C186.59 376.74 187.19 373.84 184.17 387.03 C181.16 400.21 181.76 397.44 178.75 413.96 C175.73 430.49 173.31 446.59 173.31 446.59 Z" fill="#9fcfcf" fill-opacity="0.85"/>
<path d="M173.31 446.14 C173.31 446.14 175.73 429.62 178.75 412.65 C181.76 395.68 181.16 398.53 184.17 385.00 C187.19 371.46 186.59 374.43 189.60 363.87 C192.62 353.31 192.02 355.41 195.03 346.93 C198.05 338.46 197.45 340.00 200.47 333.33 C203.48 326.65 202.88 327.83 205.89 322.88 C208.91 317.92 208.31 318.81 211.32 315.46 C214.34 312.11 213.74 312.74 216.75 310.80 C219.77 308.87 219.17 309.30 222.19 308.50 C225.20 307.69 224.60 307.91 227.62 307.90 C230.63 307.88 230.03 307.93 233.05 308.43 C236.06 308.93 235.46 308.85 238.48 309.70 C241.49 310.56 240.89 310.29 243.91 311.52 C246.92 312.75 246.32 312.39 249.34 314.15 C252.35 315.91 251.75 315.48 254.76 317.86 C257.78 320.24 257.18 319.78 260.19 322.72 C263.21 325.65 262.61 325.15 265.62 328.45 C268.64 331.74 268.04 331.17 271.06 334.59 C274.07 338.02 273.47 337.39 276.49 340.79 C279.50 344.19 278.90 343.54 281.92 346.84 C284.93 350.15 284.33 349.51 287.35 352.70 C290.36 355.88 289.76 355.27 292.77 358.33 C295.79 361.40 295.19 360.81 298.21 363.75 C301.22 366.69 300.62 366.12 303.63 368.93 C306.65 371.74 306.05 371.20 309.06 373.88 C312.08 376.57 311.48 376.05 314.50 378.61 C317.51 381.17 316.91 380.67 319.93 383.10 C322.94 385.54 322.34 384.94 325.36 387.38 C328.37 389.82 327.77 389.10 330.79 391.91 C333.80 394.72 333.20 394.39 336.22 397.51 C339.23 400.62 338.63 400.15 341.64 403.13 C344.66 406.12 344.06 405.55 347.08 408.25 C350.09 410.95 349.49 410.43 352.50 412.88 C355.52 415.33 354.92 414.86 357.94 417.08 C360.95 419.30 360.35 418.87 363.37 420.88 C366.38 422.90 365.78 422.51 368.80 424.34 C371.81 426.16 371.21 425.81 374.23 427.47 C377.24 429.14 376.64 428.82 379.66 430.33 C382.67 431.84 382.82 431.87 385.09 432.93 C387.35 433.99 387.80 434.14 387.80 434.14" fill="none" stroke="#008080" stroke-width="1.1" stroke-linejoin="round"/>
<path d="M173.31 455.81 C173.31 455.81 175.73 449.51 178.75 441.63 C181.76 433.74 181.16 434.94 184.17 427.39 C187.19 419.85 186.59 421.30 189.60 414.42 C192.62 407.54 192.02 408.85 195.03 402.60 C198.05 396.35 197.45 397.53 200.47 391.91 C203.48 386.29 202.88 387.35 205.89 382.35 C208.91 377.34 208.31 378.29 211.32 373.87 C214.34 369.45 213.74 370.27 216.75 366.42 C219.77 362.57 219.17 363.26 222.19 359.98 C225.20 356.71 224.60 357.30 227.62 354.61 C230.63 351.92 230.03 352.40 233.05 350.29 C236.06 348.17 235.46 348.55 238.48 346.98 C241.49 345.41 240.89 345.70 243.91 344.63 C246.92 343.56 246.32 343.76 249.34 343.13 C252.35 342.51 251.75 342.62 254.76 342.38 C257.78 342.15 257.18 342.18 260.19 342.29 C263.21 342.39 262.61 342.36 265.62 342.75 C268.64 343.14 268.04 343.06 271.06 343.70 C274.07 344.34 273.47 344.20 276.49 345.05 C279.50 345.90 278.90 345.73 281.92 346.75 C284.93 347.77 284.33 347.57 287.35 348.73 C290.36 349.90 289.76 349.67 292.77 350.95 C295.79 352.23 295.19 351.98 298.21 353.35 C301.22 354.73 300.62 354.46 303.63 355.91 C306.65 357.36 306.05 357.07 309.06 358.58 C312.08 360.08 311.48 359.78 314.50 361.33 C317.51 362.87 316.91 362.57 319.93 364.14 C322.94 365.71 322.34 365.18 325.36 366.99 C328.37 368.79 327.77 368.06 330.79 370.65 C333.80 373.23 333.20 373.15 336.22 376.31 C339.23 379.47 338.63 378.99 341.64 382.02 C344.66 385.04 344.06 384.43 347.08 387.21 C350.09 389.99 349.49 389.45 352.50 392.03 C355.52 394.61 354.92 394.11 357.94 396.51 C360.95 398.90 360.35 398.44 363.37 400.66 C366.38 402.89 365.78 402.45 368.80 404.52 C371.81 406.59 371.21 406.19 374.23 408.12 C377.24 410.04 376.64 409.67 379.66 411.46 C382.67 413.25 382.82 413.30 385.09 414.57 C387.35 415.84 387.80 416.04 387.80 416.04" fill="none" stroke="#0000ff" stroke-width="1.15" stroke-dasharray="6.65 4.35 1.1 4.36" stroke-dashoffset="-1.3" stroke-linejoin="round"/>
</g>
<rect x="170.60" y="290.50" width="217.20" height="172.65" fill="none" stroke="#000" stroke-width="1"/>
<g font-family='"Liberation Serif", serif' fill="#000">
<text x="302.20" y="23.20" font-size="22.60" font-style="italic" textLength="23.50" lengthAdjust="spacingAndGlyphs">pp</text>
<text x="333.00" y="21.20" font-size="22.60" textLength="17.50" lengthAdjust="spacingAndGlyphs">@</text>
<text x="357.50" y="23.20" font-size="22.60" textLength="38.00" lengthAdjust="spacingAndGlyphs">5.02</text>
<text x="404.80" y="23.20" font-size="22.60" textLength="42.60" lengthAdjust="spacingAndGlyphs">TeV</text>
<text x="107.00" y="517.50" font-size="22.60" text-anchor="middle">0</text>
<text x="213.72" y="517.50" font-size="22.60" text-anchor="middle">20</text>
<text x="320.44" y="517.50" font-size="22.60" text-anchor="middle">40</text>
<text x="427.16" y="517.50" font-size="22.60" text-anchor="middle">60</text>
<text x="533.88" y="517.50" font-size="22.60" text-anchor="middle">80</text>
<text x="640.60" y="517.50" font-size="22.60" text-anchor="middle">100</text>
<text x="53.70" y="58.70" font-size="22.60" textLength="22.00" lengthAdjust="spacingAndGlyphs">10</text>
<path d="M77.37 46.80H87.76" stroke="#000" stroke-width="0.85" fill="none" stroke-linejoin="miter"/>
<text x="89.60" y="50.30" font-size="16.00" textLength="8.60" lengthAdjust="spacingAndGlyphs">1</text>
<text x="53.70" y="207.60" font-size="22.60" textLength="22.00" lengthAdjust="spacingAndGlyphs">10</text>
<path d="M77.37 195.70H87.76" stroke="#000" stroke-width="0.85" fill="none" stroke-linejoin="miter"/>
<text x="89.60" y="199.20" font-size="16.00" textLength="8.60" lengthAdjust="spacingAndGlyphs">2</text>
<text x="53.70" y="356.50" font-size="22.60" textLength="22.00" lengthAdjust="spacingAndGlyphs">10</text>
<path d="M77.37 344.60H87.76" stroke="#000" stroke-width="0.85" fill="none" stroke-linejoin="miter"/>
<text x="89.60" y="348.10" font-size="16.00" textLength="8.60" lengthAdjust="spacingAndGlyphs">3</text>
<text x="53.70" y="505.40" font-size="22.60" textLength="22.00" lengthAdjust="spacingAndGlyphs">10</text>
<path d="M77.37 493.50H87.76" stroke="#000" stroke-width="0.85" fill="none" stroke-linejoin="miter"/>
<text x="89.60" y="497.00" font-size="16.00" textLength="8.60" lengthAdjust="spacingAndGlyphs">4</text>
<text x="170.60" y="485.70" font-size="22.60" text-anchor="middle">0</text>
<text x="224.90" y="485.70" font-size="22.60" text-anchor="middle">10</text>
<text x="279.20" y="485.70" font-size="22.60" text-anchor="middle">20</text>
<text x="333.50" y="485.70" font-size="22.60" text-anchor="middle">30</text>
<text x="387.80" y="485.70" font-size="22.60" text-anchor="middle">40</text>
<text x="162.30" y="470.25" font-size="22.60" text-anchor="end">0.0</text>
<text x="162.30" y="427.09" font-size="22.60" text-anchor="end">1.0</text>
<text x="162.30" y="383.93" font-size="22.60" text-anchor="end">2.0</text>
<text x="162.30" y="340.76" font-size="22.60" text-anchor="end">3.0</text>
<text x="162.30" y="297.60" font-size="22.60" text-anchor="end">4.0</text>
<text x="171.00" y="283.50" font-size="22.60">·</text>
<text x="177.60" y="283.50" font-size="22.60" textLength="21.80" lengthAdjust="spacingAndGlyphs">10</text>
<path d="M201.77 271.50H212.16" stroke="#000" stroke-width="0.85" fill="none" stroke-linejoin="miter"/>
<text x="213.00" y="275.00" font-size="16.00" textLength="9.60" lengthAdjust="spacingAndGlyphs">2</text>
<path d="M352.4 90.9H390.9" stroke="#008080" stroke-width="0.95" fill="none"/>
<path d="M352.4 121.5H390.9" stroke="#0000ff" stroke-width="0.95" stroke-dasharray="6.3 3.2 1 3.2" fill="none"/>
<text x="396.40" y="98.90" font-size="22.80" font-style="italic" textLength="13.60" lengthAdjust="spacingAndGlyphs">Z</text>
<path d="M413.43 93.40H428.08 M420.76 86.07V100.73" stroke="#000" stroke-width="0.92" fill="none" stroke-linejoin="miter"/>
<text x="428.60" y="98.90" font-size="22.80" textLength="24.80" lengthAdjust="spacingAndGlyphs">jet</text>
<text x="462.40" y="98.90" font-size="22.80" font-style="italic" textLength="12.80" lengthAdjust="spacingAndGlyphs">μ</text>
<text x="474.60" y="101.90" font-size="15.60" textLength="25.00" lengthAdjust="spacingAndGlyphs">ren</text>
<path d="M509.13 90.83H523.78 M509.13 95.97H523.78" stroke="#000" stroke-width="0.92" fill="none" stroke-linejoin="miter"/>
<text x="531.60" y="98.90" font-size="22.80" textLength="11.00" lengthAdjust="spacingAndGlyphs">2</text>
<path d="M543.31 90.70H554.10 M543.31 85.31H554.10 M548.70 90.70V79.89" stroke="#000" stroke-width="0.85" fill="none" stroke-linejoin="miter"/>
<text x="555.40" y="90.30" font-size="16.60" textLength="7.80" lengthAdjust="spacingAndGlyphs">1</text>
<text x="566.60" y="98.90" font-size="22.80" font-style="italic" textLength="18.60" lengthAdjust="spacingAndGlyphs">H</text>
<text x="585.00" y="101.90" font-size="15.60" font-style="italic" textLength="12.60" lengthAdjust="spacingAndGlyphs">T</text>
<text x="396.40" y="129.30" font-size="22.80" font-style="italic" textLength="17.80" lengthAdjust="spacingAndGlyphs">H</text>
<path d="M417.43 123.80H432.08 M424.76 116.47V131.13" stroke="#000" stroke-width="0.92" fill="none" stroke-linejoin="miter"/>
<text x="432.60" y="129.30" font-size="22.80" textLength="24.80" lengthAdjust="spacingAndGlyphs">jet</text>
<text x="466.40" y="129.30" font-size="22.80" font-style="italic" textLength="12.80" lengthAdjust="spacingAndGlyphs">μ</text>
<text x="478.60" y="132.30" font-size="15.60" textLength="25.00" lengthAdjust="spacingAndGlyphs">ren</text>
<path d="M513.13 121.23H527.78 M513.13 126.37H527.78" stroke="#000" stroke-width="0.92" fill="none" stroke-linejoin="miter"/>
<text x="535.60" y="129.30" font-size="22.80" textLength="11.00" lengthAdjust="spacingAndGlyphs">2</text>
<path d="M547.31 121.10H558.10 M547.31 115.71H558.10 M552.70 121.10V110.29" stroke="#000" stroke-width="0.85" fill="none" stroke-linejoin="miter"/>
<text x="559.40" y="120.70" font-size="16.60" textLength="7.80" lengthAdjust="spacingAndGlyphs">1</text>
<text x="570.60" y="129.30" font-size="22.80" font-style="italic" textLength="18.60" lengthAdjust="spacingAndGlyphs">H</text>
<text x="589.00" y="132.30" font-size="15.60" font-style="italic" textLength="12.60" lengthAdjust="spacingAndGlyphs">T</text>
<text x="380.00" y="157.00" font-size="19.00" font-style="italic" textLength="13.60" lengthAdjust="spacingAndGlyphs">P</text>
<text x="392.00" y="159.80" font-size="13.20" font-style="italic" textLength="7.60" lengthAdjust="spacingAndGlyphs">J</text>
<path d="M401.60 159.80h10.40 M406.80 159.80v-8.60" stroke="#000" stroke-width="0.80" fill="none"/>
<path d="M422.44 147.01L433.74 152.38L422.44 157.74" stroke="#000" stroke-width="0.78" fill="none" stroke-linejoin="miter"/>
<text x="443.20" y="157.00" font-size="19.00" textLength="20.80" lengthAdjust="spacingAndGlyphs">30</text>
<text x="470.60" y="157.00" font-size="19.00" font-style="italic" textLength="38.60" lengthAdjust="spacingAndGlyphs">GeV</text>
<text x="512.60" y="157.00" font-size="19.00">,</text>
<text x="526.60" y="157.00" font-size="19.00" font-style="italic" textLength="16.00" lengthAdjust="spacingAndGlyphs">R</text>
<text x="542.60" y="159.80" font-size="13.20" font-style="italic" textLength="8.40" lengthAdjust="spacingAndGlyphs">J</text>
<path d="M559.74 150.21H572.06 M559.74 154.54H572.06" stroke="#000" stroke-width="0.78" fill="none" stroke-linejoin="miter"/>
<text x="580.60" y="157.00" font-size="19.00" textLength="25.60" lengthAdjust="spacingAndGlyphs">0.3</text>
<path d="M419.3 167.10V186.10 M449.5 167.10V186.10 M521.7 167.10V186.10 M549.3 167.10V186.10" stroke="#000" stroke-width="0.85" fill="none"/>
<text x="423.20" y="181.30" font-size="19.00" font-style="italic" textLength="12.00" lengthAdjust="spacingAndGlyphs">y</text>
<text x="434.60" y="184.10" font-size="13.20" font-style="italic" textLength="10.00" lengthAdjust="spacingAndGlyphs">B</text>
<path d="M471.86 170.82L460.01 176.45L471.86 182.08" stroke="#000" stroke-width="0.81" fill="none" stroke-linejoin="miter"/>
<text x="481.00" y="181.30" font-size="19.00" textLength="31.60" lengthAdjust="spacingAndGlyphs">2.4,</text>
<text x="525.80" y="181.30" font-size="19.00" font-style="italic" textLength="9.80" lengthAdjust="spacingAndGlyphs">η</text>
<text x="535.80" y="184.10" font-size="13.20" font-style="italic" textLength="8.40" lengthAdjust="spacingAndGlyphs">J</text>
<path d="M571.66 170.82L559.81 176.45L571.66 182.08" stroke="#000" stroke-width="0.81" fill="none" stroke-linejoin="miter"/>
<text x="581.20" y="181.30" font-size="19.00" textLength="25.20" lengthAdjust="spacingAndGlyphs">1.6</text>
<text x="507.60" y="202.10" font-size="19.00" font-style="italic" textLength="11.40" lengthAdjust="spacingAndGlyphs">μ</text>
<text x="520.90" y="196.50" font-size="14.00" textLength="7.80" lengthAdjust="spacingAndGlyphs">2</text>
<text x="519.60" y="207.30" font-size="13.20" textLength="19.00" lengthAdjust="spacingAndGlyphs">res</text>
<path d="M547.94 195.31H560.26 M547.94 199.64H560.26" stroke="#000" stroke-width="0.78" fill="none" stroke-linejoin="miter"/>
<text x="569.20" y="202.10" font-size="19.00" font-style="italic" textLength="15.00" lengthAdjust="spacingAndGlyphs">P</text>
<text x="586.00" y="196.50" font-size="14.00" textLength="7.80" lengthAdjust="spacingAndGlyphs">2</text>
<text x="585.20" y="207.30" font-size="13.20" font-style="italic" textLength="8.40" lengthAdjust="spacingAndGlyphs">J</text>
<path d="M593.40 207.30h10.40 M598.60 207.30v-8.60" stroke="#000" stroke-width="0.80" fill="none"/>
<text x="315.20" y="559.00" font-size="32.60" font-style="italic" textLength="14.60" lengthAdjust="spacingAndGlyphs">q</text>
<path d="M330.40 563.60h14.40 M337.60 563.60v-10.40" stroke="#000" stroke-width="1.05" fill="none"/>
<text x="347.00" y="561.40" font-size="36.00" textLength="10.80" lengthAdjust="spacingAndGlyphs">(</text>
<text x="358.20" y="559.00" font-size="32.60" textLength="64.60" lengthAdjust="spacingAndGlyphs">GeV</text>
<text x="422.00" y="561.40" font-size="36.00" textLength="10.80" lengthAdjust="spacingAndGlyphs">)</text>
<text transform="translate(24.30 299.80) rotate(-90)" font-size="24.40">1</text>
<text transform="translate(46.90 299.40) rotate(-90)" font-size="24.40" font-style="italic">σ</text>
<text transform="translate(24.30 273.90) rotate(-90)" font-size="24.40" font-style="italic" textLength="23.40" lengthAdjust="spacingAndGlyphs">dσ</text>
<text transform="translate(47.10 280.20) rotate(-90)" font-size="24.40" font-style="italic" textLength="23.20" lengthAdjust="spacingAndGlyphs">dq</text>
<path d="M50 258.2V247.0 M50 252.6H39.3" stroke="#000" stroke-width="0.95" fill="none"/>
<path d="M27.3 299.6V285.8 M27.3 280.3V244.2" stroke="#000" stroke-width="1.0" fill="none"/>
</g>
</svg>
</body></html>
